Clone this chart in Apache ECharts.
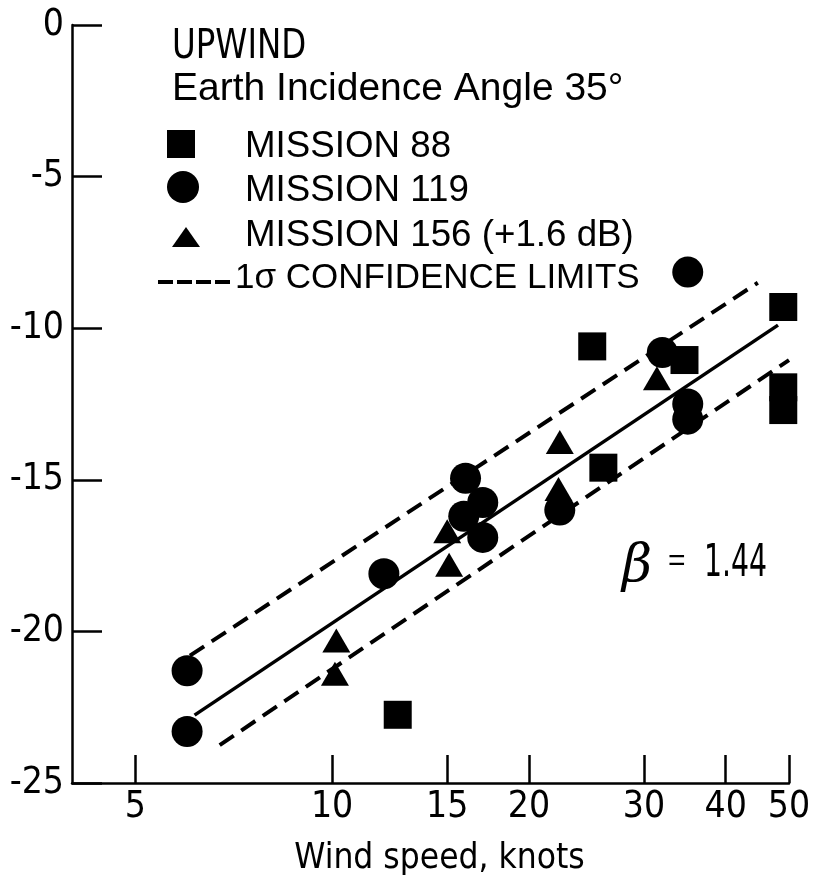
<!DOCTYPE html>
<html><head><meta charset="utf-8">
<script src="https://cdn.jsdelivr.net/npm/echarts@6/dist/echarts.min.js"></script>
<style>html,body{margin:0;padding:0;background:#fff}#c{width:816px;height:895px}</style>
</head><body><div id="c"></div>
<script>
const NARROW = "'DejaVu Sans Condensed','Liberation Sans Narrow',sans-serif";
const SANS = "'Liberation Sans',Arial,sans-serif";

// x tick values (knots, log axis)
const xTicks = [5, 10, 15, 20, 30, 40, 50];
// [wind speed knots, sigma0 dB]
const mission88 = [[12.6,-22.75],[25,-10.6],[26,-14.6],[34.6,-11.05],[49,-9.3],[49,-11.95],[49,-12.7]];
const mission119 = [[6,-21.3],[6,-23.3],[12,-18.1],[16,-14.95],[15.9,-16.2],[17,-15.75],[17,-16.9],[22.3,-16.0],[32,-10.8],[35,-8.15],[35,-12.5],[35,-13.0]];
const mission156 = [[10.15,-20.3],[10.1,-21.4],[15.1,-17.8],[15,-16.7],[22.3,-13.75],[22.2,-15.3],[31.4,-11.65]];
const fitLine = [[6.16,-22.76],[48.1,-9.9]];
const upperLimit = [[6.06,-20.8],[44.8,-8.5]];
const lowerLimit = [[6.73,-23.75],[50,-11.05]];

const chart = echarts.init(document.getElementById('c'), null, {renderer:'canvas'});
const black = '#000';
const txt = (text, x, y, size, fam, sx) => ({type:'text', x:x, y:y, scaleX:sx || 1, silent:true,
  style:{text:text, fill:black, fontSize:size, fontFamily:fam, verticalAlign:'middle', align:'left'}});

chart.setOption({
  animation:false,
  backgroundColor:'#fff',
  grid:{left:72, right:27, top:25, bottom:112, outerBoundsMode:'none', containLabel:false},
  xAxis:{
    type:'log', logBase:10, min:4, max:50,
    axisLine:{show:true, onZero:false, lineStyle:{color:black, width:2.5}},
    axisTick:{show:true, inside:true, length:28, customValues:xTicks, lineStyle:{color:black, width:2.5}},
    axisLabel:{show:true, customValues:xTicks, color:black, fontFamily:NARROW, fontSize:37, margin:6},
    splitLine:{show:false}, minorTick:{show:false}, minorSplitLine:{show:false},
    name:'Wind speed, knots', nameLocation:'middle', nameGap:58,
    nameTextStyle:{color:black, fontFamily:NARROW, fontSize:35, padding:[0,0,0,18]}
  },
  yAxis:{
    type:'value', min:-25, max:0, interval:5,
    axisLine:{show:true, onZero:false, lineStyle:{color:black, width:2.5}},
    axisTick:{show:true, inside:true, length:30, lineStyle:{color:black, width:2.5}},
    axisLabel:{color:black, fontFamily:NARROW, fontSize:37, margin:8},
    splitLine:{show:false}
  },
  series:[
    {type:'line', data:fitLine, showSymbol:false, silent:true, lineStyle:{color:black, width:3.5}},
    {type:'line', data:upperLimit, showSymbol:false, silent:true, lineStyle:{color:black, width:4, type:[17,9]}},
    {type:'line', data:lowerLimit, showSymbol:false, silent:true, lineStyle:{color:black, width:4, type:[17,9]}},
    {name:'MISSION 88', type:'scatter', data:mission88, symbol:'rect', symbolSize:28, itemStyle:{color:black, opacity:1}},
    {name:'MISSION 119', type:'scatter', data:mission119, symbol:'circle', symbolSize:31, itemStyle:{color:black, opacity:1}},
    {name:'MISSION 156 (+1.6 dB)', type:'scatter', data:mission156, symbol:'triangle', symbolSize:[28,24], itemStyle:{color:black, opacity:1}}
  ],
  graphic:[
    txt('UPWIND', 172, 47, 41, NARROW, 0.88),
    txt('Earth Incidence Angle 35°', 172, 89, 39, SANS),
    {type:'rect', silent:true, shape:{x:167, y:130, width:28, height:28}, style:{fill:black}},
    txt('MISSION 88', 245, 147, 36, SANS, 1.02),
    {type:'circle', silent:true, shape:{cx:183, cy:187, r:16}, style:{fill:black}},
    txt('MISSION 119', 245, 191, 36, SANS, 1.02),
    {type:'polygon', silent:true, shape:{points:[[172,247],[200,247],[186,227]]}, style:{fill:black}},
    txt('MISSION 156 (+1.6 dB)', 245, 236, 36, SANS, 1.02),
    {type:'line', silent:true, shape:{x1:158, y1:282, x2:232, y2:282}, style:{stroke:black, lineWidth:4, lineDash:[15,4]}},
    txt('1σ CONFIDENCE LIMITS', 235, 278, 35, SANS),
    {type:'text', x:637, y:567, silent:true, style:{text:'β', fill:black, fontSize:52, fontFamily:"'DejaVu Serif',serif", fontStyle:'italic', align:'center', verticalAlign:'middle'}},
    txt('=', 668, 562, 30, SANS),
    txt('1.44', 704, 564, 45, NARROW, 0.7)
  ]
});
</script></body></html>
